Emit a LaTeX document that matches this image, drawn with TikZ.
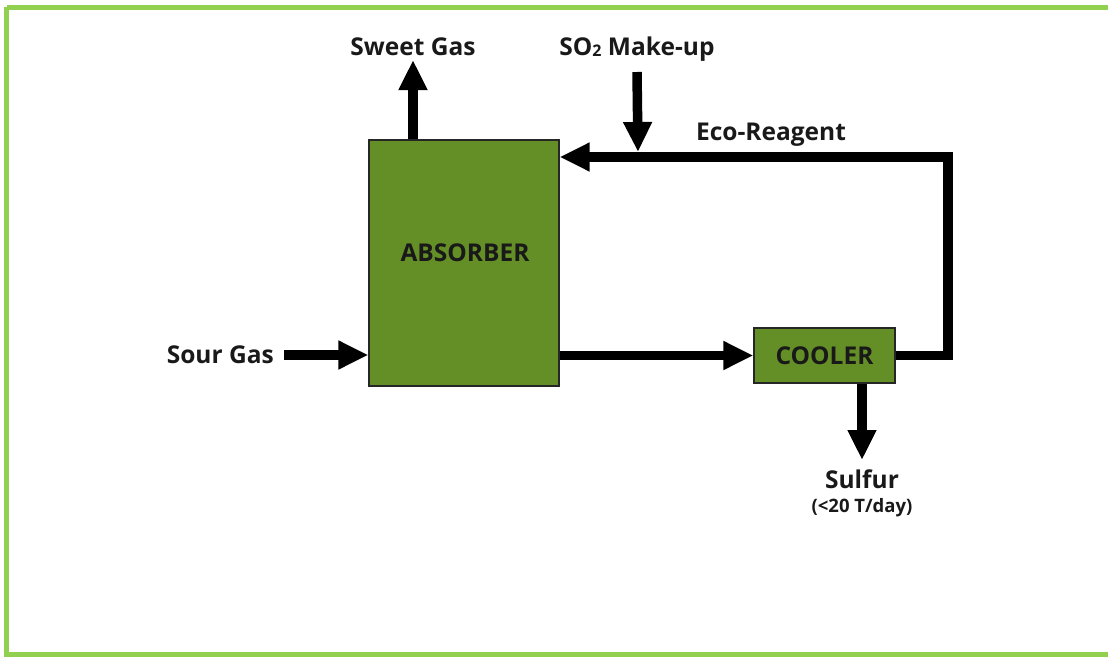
\documentclass[tikz,border=0pt]{standalone}
\usepackage{fontspec}
\setmainfont{Open Sans}
\usetikzlibrary{arrows.meta,calc}
\definecolor{frameGreen}{RGB}{146,208,80}
\definecolor{boxGreen}{RGB}{100,143,38}
\begin{document}
\begin{tikzpicture}[x=1pt,y=-1pt,
  every node/.style={font=\bfseries\fontsize{24.5}{28}\selectfont, inner sep=0pt},
  unit/.style={draw=black!85, line width=1.3pt, fill=boxGreen, text=black!90},
  lbl/.style={text=black!90},
  flow/.style={line width=9.5pt, draw=black, line join=miter,
    -{Triangle[width=27pt,length=30pt]}}]
\useasboundingbox (0,0) rectangle (1108,656);
\draw[frameGreen, line width=5pt] (6.5,7) -- (1200,7) (6.5,7) -- (6.5,654) -- (1200,654);
% units
\node[unit, minimum width=190pt, minimum height=246pt] (absorber) at (464,263) {};
\node[lbl] (abslbl) at (465,253) {ABSORBER};
\node[unit, minimum width=141pt, minimum height=55pt] (cooler) at (824.5,355.5) {COOLER};
% labels
\node[lbl, anchor=east] (sour) at (274,355) {Sour Gas};
\node[lbl, anchor=base] (sweet) at (413,55) {Sweet Gas};
\node[lbl, anchor=base] (so2) at (637,55) {SO{\fontsize{16}{16}\selectfont\raisebox{-0.12ex}{2}} Make-up};
\node[lbl, anchor=base] (eco) at (771,140) {Eco-Reagent};
\node[lbl, anchor=base] (sulfur) at (862,488) {Sulfur};
\node[lbl, anchor=base, font=\bfseries\fontsize{18.5}{20}\selectfont] (sulfnote) at (862,512) {(<20 T/day)};
% coordinates
\coordinate (mix) at (638,152);
\coordinate (corner) at (948,157);
% connectors
\draw[flow] ($(sour.east)+(10,0)$) -- (sour.east -| absorber.west);
\draw[flow] (absorber.north -| sweet) -- (413,60);
\draw[flow] ($(so2.base)+(0,17)$) -- (mix);
\draw[flow] (cooler.east) -| (corner) -- (corner -| absorber.east);
\draw[flow] (absorber.east |- cooler) -- (cooler.west);
\draw[flow] (cooler.south -| sulfur) -- ($(sulfur.base)+(0,-28)$);
\end{tikzpicture}
\end{document}
